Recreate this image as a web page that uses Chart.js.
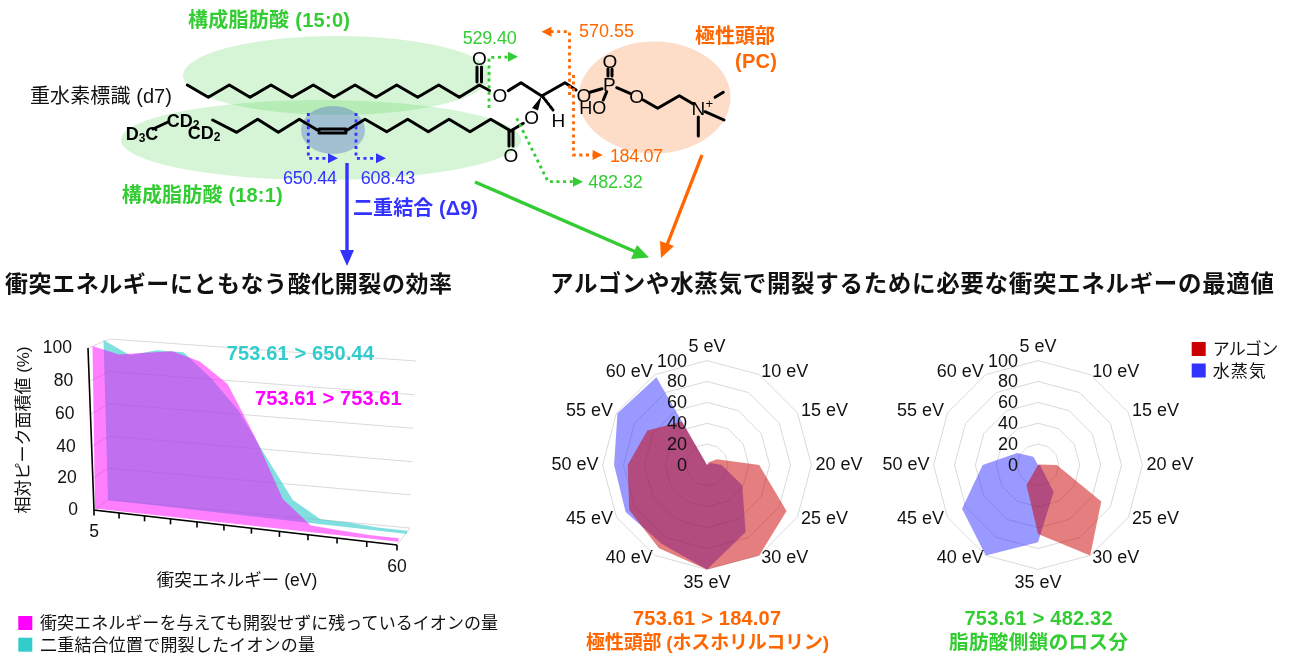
<!DOCTYPE html>
<html lang="ja"><head><meta charset="utf-8">
<script src="https://cdn.jsdelivr.net/npm/chart.js@4"></script>
<style>
html,body{margin:0;padding:0;background:#fff;width:1291px;height:658px;overflow:hidden}
canvas{position:absolute}
#lay{position:absolute;left:0;top:0;z-index:5;pointer-events:none}
#lay text{font-family:"Liberation Sans","Noto Sans CJK JP",sans-serif;font-size:18px;fill:#111;dominant-baseline:central}
#lay .b{font-weight:bold}
.mol line,.mol polyline{stroke:#000;stroke-width:3;fill:none;stroke-linecap:round;stroke-linejoin:round}
#lay .mol text{font-size:19px;text-anchor:middle;fill:#000}
.dot{fill:none;stroke-width:2.8;stroke-dasharray:3 3.6}
</style></head><body>
<canvas id="area" style="left:0;top:325px;width:500px;height:275px"></canvas>
<canvas id="r1" style="left:536.7px;top:335.5px"></canvas>
<canvas id="r2" style="left:868.3px;top:335.5px"></canvas>
<svg id="lay" width="1291" height="658" viewBox="0 0 1291 658">
 <ellipse cx="337" cy="75.5" rx="154" ry="39.5" fill="#32cd32" fill-opacity=".2"/>
 <ellipse cx="321" cy="140" rx="200" ry="40" fill="#32cd32" fill-opacity=".2"/>
 <ellipse cx="333" cy="130" rx="32" ry="24" fill="#5070c8" fill-opacity=".4"/>
 <ellipse cx="654.5" cy="97.5" rx="76" ry="56" fill="#fddcc8"/>
 <g class="mol">
  <polyline points="187.3,85 208.3,97.3 229.3,85 250,97.3 271,85 292,97.3 313.3,85 334,97.3 355,85 376,97.3 396.7,85 417.7,97.3 438.7,85 459.3,97.3 479.3,85 489.5,90.5"/>
  <line x1="477" y1="82" x2="477" y2="67"/><line x1="481.5" y1="82" x2="481.5" y2="67"/>
  <polyline points="508.3,90.7 521,82.7 541.7,96 565,82.7 576,90"/>
  <line x1="590" y1="92.3" x2="602" y2="88.7"/>
  <line x1="608" y1="76" x2="608" y2="69"/><line x1="612" y1="76" x2="612" y2="69"/>
  <line x1="606.7" y1="91.7" x2="603.3" y2="100"/>
  <line x1="616.7" y1="87.7" x2="630" y2="93.3"/>
  <polyline points="643.3,100 657.7,108.3 679.3,95.7 693.3,104"/>
  <line x1="705" y1="111.7" x2="724" y2="120"/><line x1="698.3" y1="117" x2="698.3" y2="136"/><line x1="715" y1="97.3" x2="723.3" y2="92.3"/>
  <polygon points="541.7,96 532,108 538,110.5" fill="#000"/>
  <line x1="543" y1="97" x2="553" y2="110" stroke-dasharray="2 2"/>
  <line x1="523.3" y1="123.3" x2="511" y2="130.7"/>
  <line x1="509" y1="131" x2="509" y2="146"/><line x1="513" y1="131" x2="513" y2="146"/>
  <line x1="153" y1="129" x2="168" y2="122"/>
  <polyline points="212.7,120 236.7,132.3 257.7,119.3 278.3,132.3 299.3,119.3 319,131"/>
  <polyline points="345.7,131 365,119.3 386.7,131.7 407.7,119.3 428.3,131.7 449,119.3 470,131.7 490.7,119.3 511,131"/>
  <line x1="319" y1="129" x2="346" y2="129"/><line x1="319" y1="133" x2="346" y2="133"/>
  <text x="479.5" y="58">O</text><text x="500" y="95.7">O</text><text x="531.7" y="117.7">O</text><text x="511" y="155">O</text>
  <text x="584" y="95">O</text><text x="609.3" y="84.3">P</text><text x="610" y="61">O</text><text x="636.7" y="96.7">O</text>
  <text x="592.7" y="108.3" style="font-size:18px">HO</text><text x="558.3" y="120.7">H</text><text x="698.3" y="108.3">N</text><text x="709.3" y="103" style="font-size:13px">+</text>
  <text x="142" y="134" class="b" style="font-size:18px">D<tspan dy="4" font-size="12">3</tspan><tspan dy="-4">C</tspan></text>
  <text x="183" y="121" class="b" style="font-size:18px">CD<tspan dy="4" font-size="12">2</tspan></text>
  <text x="204" y="133" class="b" style="font-size:18px">CD<tspan dy="4" font-size="12">2</tspan></text>
 </g>
 <g stroke="#3333ff" class="dot"><polyline points="308.3,113 308.3,158.3 330,158.3"/><polyline points="356,113 356,158.3 378,158.3"/></g>
 <polygon points="338,158.3 328,153.3 328,163.3" fill="#3333ff"/><polygon points="386,158.3 376,153.3 376,163.3" fill="#3333ff"/>
 <g stroke="#33cc33" class="dot"><polyline points="489,108 489,57.5 510,57"/><polyline points="516.7,118.3 548,181.7 575,181.7"/></g>
 <polygon points="518,56.7 508,51.7 508,61.7" fill="#33cc33"/><polygon points="583,181.7 573,176.7 573,186.7" fill="#33cc33"/>
 <g stroke="#ff6600" class="dot"><polyline points="569.5,95 569.5,31.7 549,31.7"/><polyline points="573.5,75 573.5,155 594,155"/></g>
 <polygon points="541.5,31.7 551.5,26.7 551.5,36.7" fill="#ff6600"/><polygon points="602.7,155 592.7,150 592.7,160" fill="#ff6600"/>
 <line x1="347" y1="163" x2="347" y2="252" stroke="#3333ff" stroke-width="3.4"/><polygon points="347,266 340,250 354,250" fill="#3333ff"/>
 <line x1="475" y1="182" x2="636" y2="252" stroke="#33cc33" stroke-width="3.4"/><polygon points="649,257.5 631,259 637,245" fill="#33cc33"/>
 <line x1="702" y1="155" x2="667" y2="245" stroke="#ff6600" stroke-width="3.4"/><polygon points="661,258 660,241 674,246" fill="#ff6600"/>

 <text x="188" y="20" class="b" textLength="162" style="fill:#33cc33;font-size:20px">構成脂肪酸 (15:0)</text>
 <text x="121.7" y="195" class="b" textLength="161" style="fill:#33cc33;font-size:20px">構成脂肪酸 (18:1)</text>
 <text x="30" y="96" textLength="142" style="font-size:20px">重水素標識 (d7)</text>
 <text x="462.7" y="38" textLength="54" style="fill:#33cc33">529.40</text>
 <text x="579" y="31" textLength="55" style="fill:#ff6600">570.55</text>
 <text x="610" y="155.5" textLength="53" style="fill:#ff6600">184.07</text>
 <text x="588.3" y="182" textLength="54.5" style="fill:#33cc33">482.32</text>
 <text x="283" y="177.5" textLength="54" style="fill:#3333ff">650.44</text>
 <text x="360.7" y="177.5" textLength="54.5" style="fill:#3333ff">608.43</text>
 <text x="353" y="208" class="b" textLength="125" style="fill:#3333ff;font-size:20px">二重結合 (Δ9)</text>
 <text x="695" y="36" class="b" textLength="80" style="fill:#ff6600;font-size:20px">極性頭部</text>
 <text x="735" y="61" class="b" textLength="42" style="fill:#ff6600;font-size:20px">(PC)</text>
 <text x="5" y="284" class="b" textLength="447" style="font-size:23px">衝突エネルギーにともなう酸化開裂の効率</text>
 <text x="550" y="284" class="b" textLength="724" style="font-size:23.5px">アルゴンや水蒸気で開裂するために必要な衝突エネルギーの最適値</text>
 <text x="226.7" y="353" class="b" textLength="147.3" style="fill:#33cccc;font-size:20px">753.61 &gt; 650.44</text>
 <text x="255" y="398" class="b" textLength="146.7" style="fill:#ff00ff;font-size:20px">753.61 &gt; 753.61</text>
 <rect x="18.3" y="616" width="14" height="14" fill="#ff00ff"/><text x="40" y="623" textLength="458" style="font-size:17px">衝突エネルギーを与えても開裂せずに残っているイオンの量</text>
 <rect x="18.3" y="637.7" width="14" height="14" fill="#33cccc"/><text x="40" y="645" textLength="275" style="font-size:17px">二重結合位置で開裂したイオンの量</text>
 <rect x="1191.7" y="342" width="14" height="14" fill="#cc0000"/><text x="1212.7" y="349" textLength="65.5" style="font-size:17px">アルゴン</text>
 <rect x="1191.7" y="363.5" width="14" height="14" fill="#3333ff"/><text x="1212.7" y="371" textLength="53" style="font-size:17px">水蒸気</text>
 <text x="633" y="618" class="b" textLength="148" style="fill:#ff6600;font-size:20px">753.61 &gt; 184.07</text>
 <text x="586" y="642" class="b" textLength="243" style="fill:#ff6600;font-size:19px">極性頭部 (ホスホリルコリン)</text>
 <text x="964.5" y="618" class="b" textLength="148" style="fill:#33cc33;font-size:20px">753.61 &gt; 482.32</text>
 <text x="949" y="642" class="b" textLength="179" style="fill:#33cc33;font-size:19.5px">脂肪酸側鎖のロス分</text>
</svg>
<script>
const energyEV = [5,10,15,20,25,30,35,40,45,50,55,60];
const radarLabels = ["5 eV","10 eV","15 eV","20 eV","25 eV","30 eV","35 eV","40 eV","45 eV","50 eV","55 eV","60 eV"];
const remainingIon = [100,96,98,100,95,83,53,18,4,3,2,2];
const cleavedIon   = [100,92,96,96,82,64,38,13,3,3,2,2];
const pcArgon  = [0,3,11,50,88,100,100,92,86,76,66,48];
const pcWater  = [0,0,4,14,39,74,100,87,90,89,99,97];
const fattyArgon = [0,0,1,18,70,100,66,22,0,0,0,0];
const fattyWater = [0,0,0,2,3,30,74,100,84,53,23,9];
const xAxisTitle = "衝突エネルギー (eV)";
const yAxisTitle = "相対ピーク面積値 (%)";
const FONT = '"Liberation Sans","Noto Sans CJK JP",sans-serif';

Chart.defaults.animation = false;
Chart.defaults.font.family = FONT;

/* perspective: unit square -> page quad (BL, BR, TR, TL) */
function homography(q){
  const [p0,p1,p2,p3]=q;
  const dx1=p1[0]-p2[0],dx2=p3[0]-p2[0],dx3=p0[0]-p1[0]+p2[0]-p3[0];
  const dy1=p1[1]-p2[1],dy2=p3[1]-p2[1],dy3=p0[1]-p1[1]+p2[1]-p3[1];
  const den=dx1*dy2-dx2*dy1;
  const g=(dx3*dy2-dx2*dy3)/den,h=(dx1*dy3-dx3*dy1)/den;
  const a=p1[0]-p0[0]+g*p1[0],b=p3[0]-p0[0]+h*p3[0],c=p0[0];
  const d=p1[1]-p0[1]+g*p1[1],e=p3[1]-p0[1]+h*p3[1],f=p0[1];
  return (u,v)=>{const w=g*u+h*v+1;return [(a*u+b*v+c)/w,(d*u+e*v+f)/w];};
}
const CANVAS_TOP=325;
const quad=a=>homography(a.map(p=>[p[0],p[1]-CANVAS_TOP]));
const axisPlane  = quad([[94,510],[397,545],[404,366],[88,348]]);
const frontPlane = quad([[95,508.5],[398.5,541.7],[404,366],[92.5,346]]);
const backPlane  = quad([[108,500],[407,534],[416,361],[103.5,340]]);
const wallPlane  = quad([[108,500],[410,528],[416,361],[110,339]]);
const planes=[frontPlane,backPlane];

const perspective={
  id:'perspective',
  uv(chart,x,y){const a=chart.chartArea;return [(x-a.left)/(a.right-a.left),(a.bottom-y)/(a.bottom-a.top)];},
  afterDatasetsUpdate(chart){
    chart.data.datasets.forEach((ds,i)=>{
      const m=chart.getDatasetMeta(i);
      m.data.forEach(p=>{const [u,v]=this.uv(chart,p.x,p.y);const r=planes[i](u,v);p.x=r[0];p.y=r[1];});
    });
  },
  beforeDatasetsDraw(chart){
    const {ctx,scales:{x,y}}=chart;
    ctx.save();ctx.strokeStyle='#d9d9d9';ctx.lineWidth=1;
    const Y=v=>this.uv(chart,x.left,y.getPixelForValue(v))[1];
    y.ticks.forEach(t=>{
      const v=Y(t.value);
      const a=axisPlane(0,v),b=wallPlane(0,v),c=wallPlane(1,v);
      ctx.beginPath();ctx.moveTo(a[0],a[1]);ctx.lineTo(b[0],b[1]);ctx.lineTo(c[0],c[1]);ctx.stroke();
    });
    const a=axisPlane(1,0),b=wallPlane(1,0);
    ctx.beginPath();ctx.moveTo(a[0],a[1]);ctx.lineTo(b[0],b[1]);ctx.stroke();
    ctx.restore();
  },
  beforeDatasetDraw(chart,args){
    const {ctx,scales:{y}}=chart;const i=args.index,pts=args.meta.data;
    const zero=this.uv(chart,0,y.getPixelForValue(0))[1];
    ctx.save();ctx.fillStyle=chart.data.datasets[i].backgroundColor;ctx.beginPath();
    pts.forEach((p,k)=>k?ctx.lineTo(p.x,p.y):ctx.moveTo(p.x,p.y));
    const r=planes[i](1,zero),l=planes[i](0,zero);
    ctx.lineTo(r[0],r[1]);ctx.lineTo(l[0],l[1]);ctx.closePath();ctx.fill();ctx.restore();
  },
  afterDatasetsDraw(chart){
    const {ctx,scales:{x,y}}=chart;
    const U=val=>this.uv(chart,x.getPixelForValue(val),y.top)[0];
    const V=val=>this.uv(chart,x.left,y.getPixelForValue(val))[1];
    ctx.save();ctx.strokeStyle='#000';ctx.lineWidth=1.6;
    const s=axisPlane(0,1),o=axisPlane(0,0),e=axisPlane(1,0);
    ctx.beginPath();ctx.moveTo(s[0],s[1]);ctx.lineTo(o[0],o[1]);ctx.lineTo(e[0],e[1]);ctx.stroke();
    ctx.fillStyle='#111';ctx.font='17.5px '+FONT;ctx.textBaseline='middle';
    y.ticks.forEach(t=>{
      const p=axisPlane(0,V(t.value));
      ctx.textAlign='right';ctx.fillText(String(t.value),p[0]-16,p[1]);
    });
    x.ticks.forEach(t=>{
      const p=axisPlane(U(t.value),0);
      ctx.beginPath();ctx.moveTo(p[0],p[1]);ctx.lineTo(p[0],p[1]+5.5);ctx.stroke();
      if(t.value===energyEV[0]||t.value===energyEV[energyEV.length-1]){
        ctx.textAlign='center';ctx.fillText(String(t.value),p[0],p[1]+22);
      }
    });
    ctx.textAlign='center';
    ctx.font='17.5px '+FONT;
    ctx.fillText(xAxisTitle,237,581-CANVAS_TOP);
    ctx.font='17px '+FONT;
    ctx.translate(24,430-CANVAS_TOP);ctx.rotate(-Math.PI/2);ctx.fillText(yAxisTitle,0,0);
    ctx.restore();
  }
};
new Chart(document.getElementById('area'),{
  type:'line',
  data:{datasets:[
    {label:'衝突エネルギーを与えても開裂せずに残っているイオンの量',data:energyEV.map((e,i)=>({x:e,y:remainingIon[i]})),backgroundColor:'rgba(255,0,255,0.5)',borderWidth:0,pointRadius:0,clip:false},
    {label:'二重結合位置で開裂したイオンの量',data:energyEV.map((e,i)=>({x:e,y:cleavedIon[i]})),backgroundColor:'rgba(51,204,204,0.62)',borderWidth:0,pointRadius:0,clip:false}
  ]},
  options:{responsive:false,maintainAspectRatio:false,devicePixelRatio:1,layout:{padding:0},
    plugins:{legend:{display:false},tooltip:{enabled:false}},
    scales:{x:{type:'linear',display:false,min:5,max:60,ticks:{stepSize:5}},
            y:{display:false,min:0,max:100,ticks:{stepSize:20}}}},
  plugins:[perspective]
});

const radarTicks={
  id:'radarTicks',
  beforeDraw(chart){
    /* pull the point labels in closer to the polygon, as in the source figure */
    const r=chart.scales.r,R=r.drawingArea,n=r._pointLabelItems.length;
    r._pointLabelItems.forEach((it,i)=>{
      const lh=r.options.pointLabels.font.size*1.2;
      const isPole=(i===0||i===n/2);
      const p=r.getPointPosition(i,isPole?R+14:R+3);
      it.y=p.y-lh/2;
    });
  },
  afterDatasetsDraw(chart){
    const {ctx,scales:{r}}=chart;
    ctx.save();ctx.font='18px '+FONT;ctx.fillStyle='#111';ctx.textAlign='right';ctx.textBaseline='middle';
    r.ticks.forEach(t=>ctx.fillText(t.label,r.xCenter-20,r.yCenter-r.getDistanceFromCenterForValue(t.value)+1));
    ctx.restore();
  }
};
function radar(id,argon,water){
  const c=document.getElementById(id);
  c.style.width='340px';c.style.height='260px';c.width=340;c.height=260;
  new Chart(c,{type:'radar',
    data:{labels:radarLabels,datasets:[
      {label:'アルゴン',data:argon,backgroundColor:'rgba(204,0,0,0.5)',borderWidth:0,pointRadius:0,fill:true},
      {label:'水蒸気',data:water,backgroundColor:'rgba(51,51,255,0.5)',borderWidth:0,pointRadius:0,fill:true}
    ]},
    options:{responsive:false,maintainAspectRatio:false,devicePixelRatio:1,
      plugins:{legend:{display:false},tooltip:{enabled:false}},
      scales:{r:{min:0,max:100,
        angleLines:{display:false},
        grid:{color:'#d9d9d9',lineWidth:1},
        ticks:{display:false,stepSize:20},
        pointLabels:{display:true,color:'#111',padding:4,font:{size:18,family:FONT}}}}},
    plugins:[radarTicks]
  });
}
radar('r1',pcArgon,pcWater);
radar('r2',fattyArgon,fattyWater);
</script>
</body></html>
